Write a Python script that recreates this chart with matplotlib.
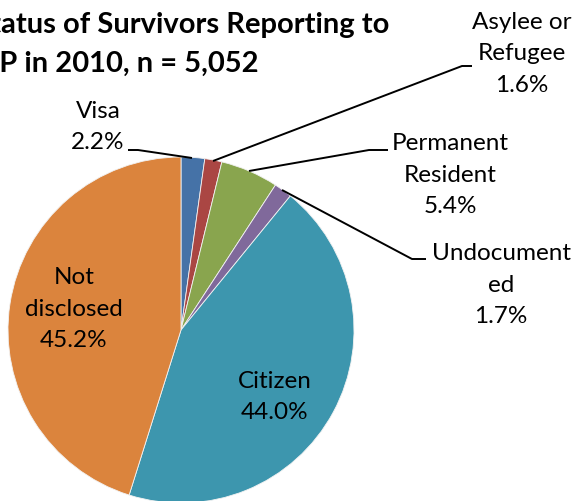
import matplotlib
matplotlib.use("Agg")
import matplotlib.pyplot as plt

# figure size in pixels (dpi 100)
W, H = 574, 502

# data
categories = ["Visa", "Asylee or\nRefugee", "Permanent\nResident", "Undocument\ned",
              "Citizen", "Not\ndisclosed"]
shares = [2.2, 1.6, 5.4, 1.7, 44.0, 45.2]
colors = ["#4572A7", "#AA4643", "#89A54E", "#80699B", "#3D96AE", "#DB843D"]
title_lines = ["Immigration Status of Survivors Reporting to",
               "NCAVP in 2010, n = 5,052"]

plt.rcParams['font.family'] = ['Lato', 'DejaVu Sans']


# pixel coords (top-left origin) -> data coords
def px(x, y):
    return (x, H - y)


fig = plt.figure(figsize=(W / 100, H / 100), dpi=100)
ax = fig.add_axes([0, 0, 1, 1])
ax.set_xlim(0, W)
ax.set_ylim(0, H)
ax.set_aspect('equal')
ax.axis('off')

wedges, _ = ax.pie(shares, colors=colors, startangle=90, counterclock=False,
                   center=px(181, 331), radius=173,
                   wedgeprops=dict(edgecolor='#f2f2f2', linewidth=0.6))
ax.set_xlim(0, W)
ax.set_ylim(0, H)

# title (cut off at left edge like the original)
ax.text(*px(389, 33), title_lines[0], ha='right', va='baseline',
        fontsize=21, fontweight='bold', color='black')
ax.text(*px(259, 72), title_lines[1], ha='right', va='baseline',
        fontsize=21, fontweight='bold', color='black')

fs = 17.5
# label centres (pixel) and leader lines
label_pos = [(98, 127), (522, 54), (450, 175), (501, 285), (275, 397), (74, 309)]
leaders = [
    [(192, 159), (138, 151), (128, 151)],
    [(213, 162), (462, 67), (472, 67)],
    [(249, 172), (369, 151), (388, 151)],
    [(282, 191), (412, 260), (426, 260)],
    None,
    None,
]

for i in range(len(categories)):
    txt = "%s\n%.1f%%" % (categories[i], shares[i])
    ax.text(*px(*label_pos[i]), txt, ha='center', va='center', fontsize=fs,
            linespacing=1.62, color='black')
    if leaders[i] is not None:
        pts = [px(x, y) for x, y in leaders[i]]
        ax.plot([p[0] for p in pts], [p[1] for p in pts], color='black', lw=1.4,
                solid_capstyle='butt')

fig.savefig("out.png", dpi=100)
